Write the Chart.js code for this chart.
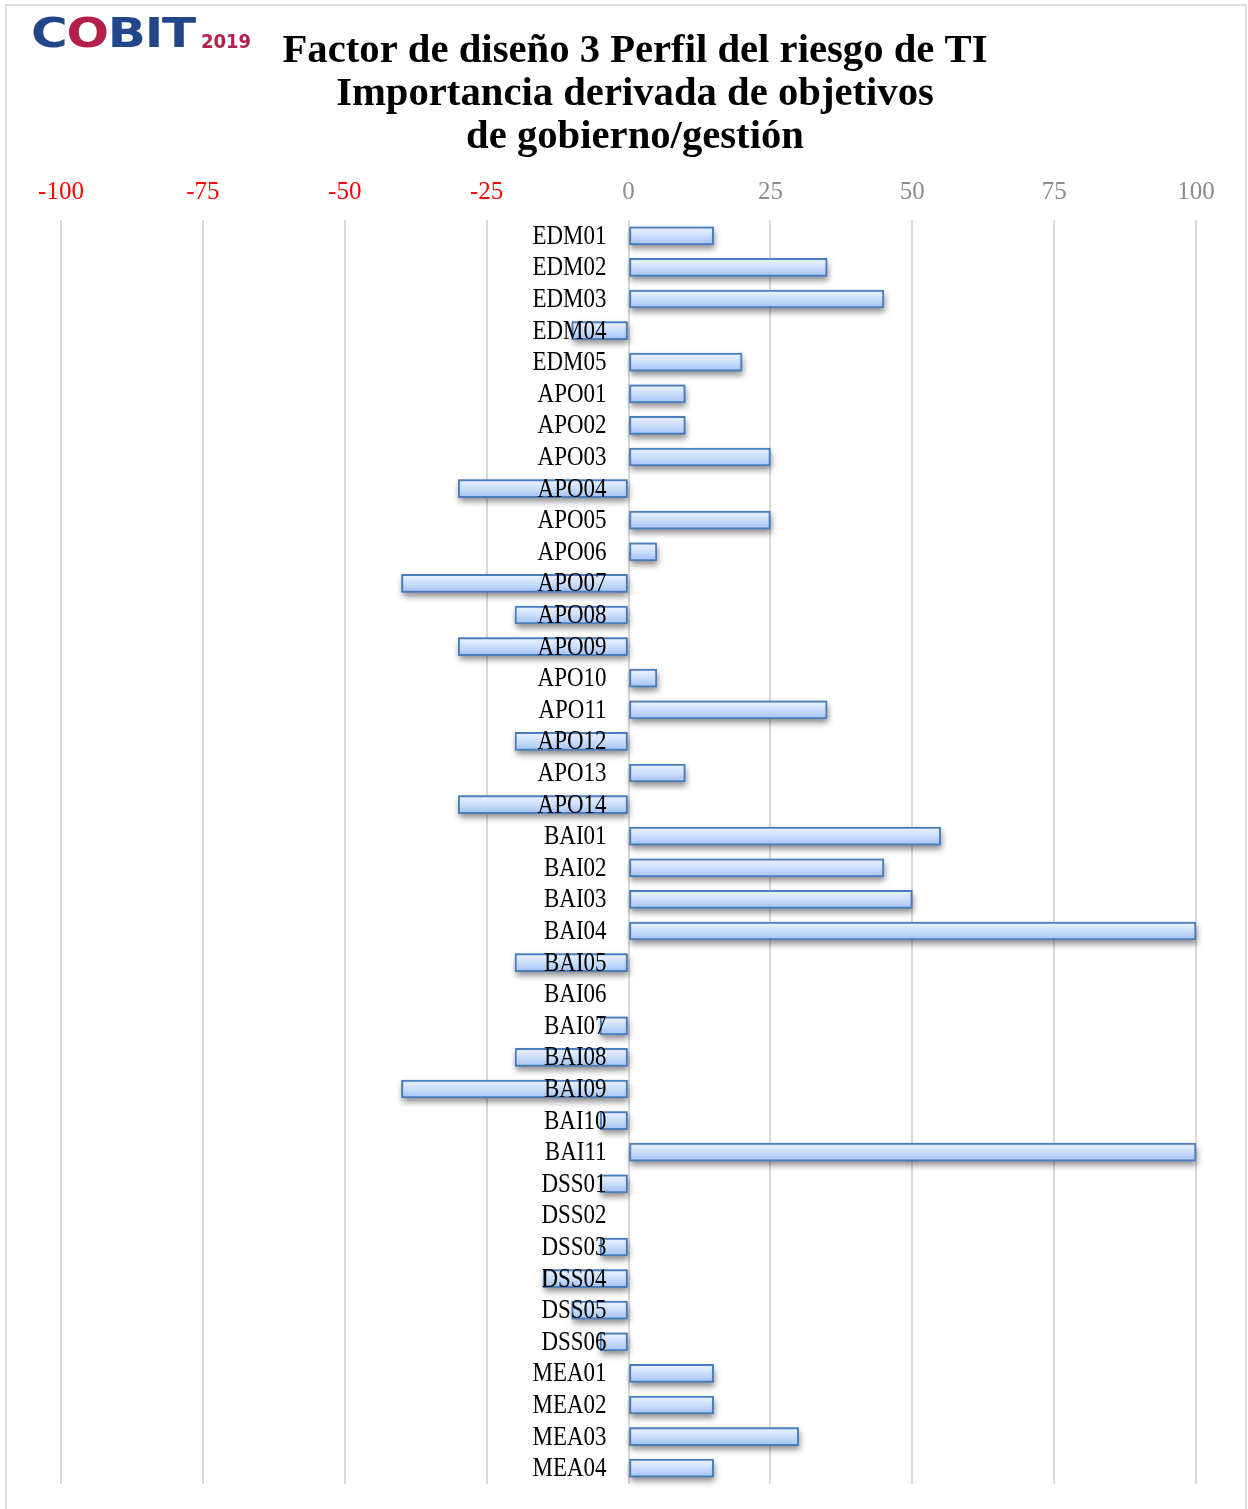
<!DOCTYPE html>
<html lang="es">
<head>
<meta charset="utf-8">
<title>Factor de diseño 3 Perfil del riesgo de TI</title>
<script src="https://cdn.jsdelivr.net/npm/chart.js@4.4.1/dist/chart.umd.min.js"></script>
<style>
  html, body { margin: 0; padding: 0; background: #fff; }
  #marco { position: absolute; left: 5px; top: 4px; width: 1238px; height: 1520px; border: 2px solid #dcdcdc; }
  #grafico { position: absolute; left: 0; top: 0; }
  .logo { position: absolute; font-family: "DejaVu Sans"; font-weight: bold; white-space: nowrap; transform-origin: left top; }
  #logo1 { left: 31px; top: 13px; font-size: 41px; line-height: 41px; color: #22468a; transform: scaleX(1.22); letter-spacing: -1px; }
  #logo1 .o { color: #b3204c; }
  #logo2 { left: 201px; top: 31px; font-size: 20px; line-height: 20px; color: #b3204c; transform: scaleX(0.9); }
</style>
</head>
<body>
<div id="marco"></div>
<canvas id="grafico" width="1248" height="1509"></canvas>
<div class="logo" id="logo1">C<span class="o">O</span>BIT</div>
<div class="logo" id="logo2">2019</div>
<script>
// Objetivos de gobierno y gestión
const categorias = [
  'EDM01', 'EDM02', 'EDM03', 'EDM04', 'EDM05',
  'APO01', 'APO02', 'APO03', 'APO04', 'APO05', 'APO06', 'APO07',
  'APO08', 'APO09', 'APO10', 'APO11', 'APO12', 'APO13', 'APO14',
  'BAI01', 'BAI02', 'BAI03', 'BAI04', 'BAI05', 'BAI06', 'BAI07',
  'BAI08', 'BAI09', 'BAI10', 'BAI11',
  'DSS01', 'DSS02', 'DSS03', 'DSS04', 'DSS05', 'DSS06',
  'MEA01', 'MEA02', 'MEA03', 'MEA04'
];

// Importancia relativa de cada objetivo
const importancia = [
  15, 35, 45, -10, 20,
  10, 10, 25, -30, 25, 5, -40,
  -20, -30, 5, 35, -20, 10, -30,
  55, 45, 50, 100, -20, 0, -5,
  -20, -40, -5, 100,
  -5, 0, -5, -15, -10, -5,
  15, 15, 30, 15
];

const marcasX = [-100, -75, -50, -25, 0, 25, 50, 75, 100];

const tituloLineas = [
  'Factor de diseño 3 Perfil del riesgo de TI',
  'Importancia derivada de objetivos',
  'de gobierno/gestión'
];

// degradado vertical de cada barra
function rellenoBarra(ctx) {
  const chart = ctx.chart;
  const esc = chart.scales && chart.scales.y;
  if (!esc || ctx.type !== 'data') return '#c9dcfa';
  const cy = esc.getPixelForValue(ctx.dataIndex);
  if (!Number.isFinite(cy)) return '#c9dcfa';
  const g = chart.ctx.createLinearGradient(0, cy - 8, 0, cy + 8);
  g.addColorStop(0, '#e8f0fe');
  g.addColorStop(0.45, '#cfe0fc');
  g.addColorStop(1, '#a6c4f4');
  return g;
}

// sombra bajo las barras
const sombra = {
  id: 'sombra',
  beforeDatasetsDraw(chart) {
    const c = chart.ctx;
    c.save();
    c.shadowColor = 'rgba(0,0,0,0.45)';
    c.shadowBlur = 6;
    c.shadowOffsetX = 1;
    c.shadowOffsetY = 4;
    c.fillStyle = '#6f8fc0';
    chart.getDatasetMeta(0).data.forEach(b => {
      const p = b.getProps(['x', 'y', 'base', 'height'], true);
      const w = Math.abs(p.x - p.base);
      if (w < 1) return;
      c.fillRect(Math.min(p.x, p.base), p.y - p.height / 2, w, p.height);
    });
    c.restore();
  }
};

// etiquetas de categoría junto al eje cero, encima de las barras
const etiquetas = {
  id: 'etiquetas',
  afterDatasetsDraw(chart) {
    const c = chart.ctx;
    const x0 = chart.scales.x.getPixelForValue(0) - 22;
    c.save();
    c.font = '27px "Liberation Serif"';
    const k = 74 / c.measureText('EDM01').width;
    c.fillStyle = '#000';
    c.textAlign = 'right';
    c.textBaseline = 'middle';
    categorias.forEach((cat, i) => {
      const y = chart.scales.y.getPixelForValue(i);
      c.save();
      c.translate(x0, y + 1);
      c.scale(k, 1);
      c.fillText(cat, 0, 0);
      c.restore();
    });
    c.restore();
  }
};

const titulo = {
  id: 'titulo',
  afterDraw(chart) {
    const c = chart.ctx;
    c.save();
    c.font = 'bold 41px "Liberation Serif"';
    const k = 705 / c.measureText(tituloLineas[0]).width;
    c.fillStyle = '#000';
    c.textAlign = 'center';
    c.textBaseline = 'alphabetic';
    [62, 105, 148].forEach((y, i) => {
      c.save();
      c.translate(635, y);
      c.scale(k, 1);
      c.fillText(tituloLineas[i], 0, 0);
      c.restore();
    });
    c.restore();
  }
};

new Chart(document.getElementById('grafico'), {
  type: 'bar',
  data: {
    labels: categorias,
    datasets: [{
      data: importancia,
      backgroundColor: rellenoBarra,
      borderColor: '#4a7ebb',
      borderWidth: 2,
      borderSkipped: false,
      barThickness: 18
    }]
  },
  options: {
    responsive: false,
    animation: false,
    indexAxis: 'y',
    layout: { padding: { top: 164, left: 61, right: 52, bottom: 25 } },
    plugins: {
      legend: { display: false },
      tooltip: { enabled: false },
      title: { display: false }
    },
    scales: {
      x: {
        position: 'top',
        min: -100,
        max: 100,
        afterBuildTicks: s => { s.ticks = marcasX.map(v => ({ value: v })); },
        grid: { color: '#d9d9d9', lineWidth: 2, drawTicks: false },
        border: { display: false },
        ticks: {
          padding: 13,
          color: c => (c.tick && c.tick.value < 0) ? '#ff0000' : '#8c8c8c',
          font: { family: 'Liberation Serif', size: 25 }
        }
      },
      y: { display: false }
    }
  },
  plugins: [sombra, etiquetas, titulo]
});
</script>
</body>
</html>
